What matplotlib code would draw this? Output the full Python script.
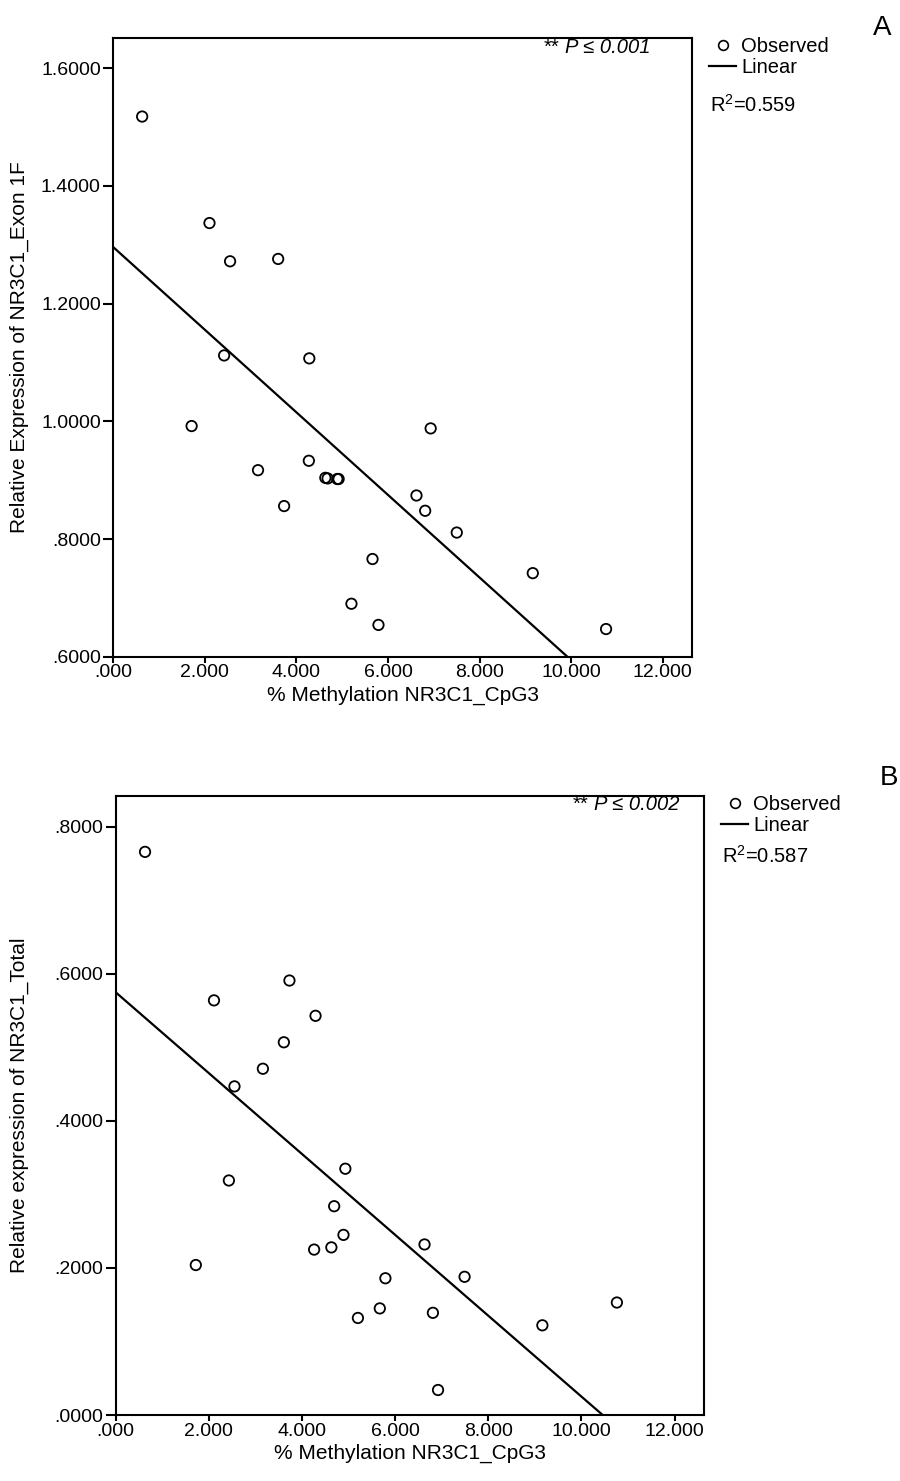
import matplotlib
matplotlib.use("Agg")
import matplotlib.pyplot as plt
import numpy as np
from matplotlib.ticker import FuncFormatter
from matplotlib.lines import Line2D

plt.rcParams['font.family'] = ['Liberation Sans', 'DejaVu Sans']
plt.rcParams['mathtext.fontset'] = 'custom'
plt.rcParams['mathtext.rm'] = 'Liberation Sans'

# panel A data: methylation vs exon 1F expression
meth_a = [0.63, 1.71, 2.10, 2.42, 2.55, 3.16, 3.60, 3.73, 4.27, 4.28, 4.63, 4.68,
          4.89, 4.92, 5.20, 5.66, 5.79, 6.62, 6.81, 6.93, 7.50, 9.16, 10.76]
expr_a = [1.518, 0.992, 1.337, 1.112, 1.272, 0.917, 1.276, 0.856, 0.933, 1.107, 0.904, 0.903,
          0.902, 0.902, 0.690, 0.766, 0.654, 0.874, 0.848, 0.988, 0.811, 0.742, 0.647]
fit_a = (1.296, -0.0702)  # intercept, slope
p_a = "P ≤ 0.001"
r2_a = "0.559"

# panel B data: methylation vs total expression
meth_b = [0.63, 1.72, 2.11, 2.43, 2.55, 3.16, 3.61, 3.73, 4.26, 4.29, 4.63, 4.69,
          4.89, 4.93, 5.20, 5.67, 5.79, 6.63, 6.81, 6.92, 7.49, 9.16, 10.76]
expr_b = [0.766, 0.204, 0.564, 0.319, 0.447, 0.471, 0.507, 0.591, 0.225, 0.543, 0.228, 0.284,
          0.245, 0.335, 0.132, 0.145, 0.186, 0.232, 0.139, 0.034, 0.188, 0.122, 0.153]
fit_b = (0.575, -0.055)
p_b = "P ≤ 0.002"
r2_b = "0.587"

xticks = [0, 2, 4, 6, 8, 10, 12]


def strip_zero(fmt):
    def f(v, pos):
        s = fmt.format(v)
        if s.startswith("0."):
            s = s[1:]
        return s
    return FuncFormatter(f)


fig = plt.figure(figsize=(9, 14.81), dpi=100)
W, H = 900.0, 1481.0


def panel(rect, x, y, fit, ylim, yticks, ylabel, ptxt, pxy, r2, leg_xy, r2_xy, letter, letter_xy):
    l, t, r, b = rect
    ax = fig.add_axes([l / W, 1 - b / H, (r - l) / W, (b - t) / H])
    ax.scatter(x, y, s=56, facecolors='none', edgecolors='black', linewidths=1.3, zorder=3)
    xend = -fit[0] / fit[1]
    xs = np.array([0, xend])
    ax.plot(xs, fit[0] + fit[1] * xs, color='black', lw=1.6)
    ax.set_xlim(0, 12.63)
    ax.set_ylim(*ylim)
    ax.set_xticks(xticks)
    ax.set_yticks(yticks)
    ax.xaxis.set_major_formatter(strip_zero("{:.3f}"))
    ax.yaxis.set_major_formatter(strip_zero("{:.4f}"))
    for s in ax.spines.values():
        s.set_linewidth(1.5)
    ax.tick_params(axis='y', direction='out', length=7, width=1.5, labelsize=14, pad=2)
    ax.tick_params(axis='x', direction='out', length=4.5, width=1.5, labelsize=14, pad=1)
    ax.set_xlabel("% Methylation NR3C1_CpG3", fontsize=15, labelpad=3)
    ax.set_ylabel(ylabel, fontsize=15)
    ax.yaxis.set_label_coords((29 - l) / (r - l), 0.5)

    t1 = ax.text(pxy[0], pxy[1], ptxt, transform=ax.transAxes, ha='right', va='center',
                 fontsize=14.5, style='italic')
    ax.annotate("**", xy=(0, 0.5), xycoords=t1, xytext=(-4, 0), textcoords='offset points',
                ha='right', va='center', fontsize=14.5)

    handles = [Line2D([], [], ls='none', marker='o', mfc='none', mec='black', ms=7, mew=1.2),
               Line2D([], [], color='black', lw=1.6)]
    ax.legend(handles, ["Observed", "Linear"], loc='upper left',
              bbox_to_anchor=(leg_xy[0] / W, 1 - leg_xy[1] / H), bbox_transform=fig.transFigure,
              frameon=False, fontsize=14.5, borderpad=0, borderaxespad=0, labelspacing=0.1,
              handlelength=1.35, handletextpad=0.25)
    fig.text(r2_xy[0] / W, 1 - r2_xy[1] / H, "R$^{2}$=" + r2, fontsize=14.5, ha='left', va='center')
    fig.text(letter_xy[0] / W, 1 - letter_xy[1] / H, letter, fontsize=20, ha='left', va='center')
    return ax


panel((113.3, 37.7, 691.7, 656.7), meth_a, expr_a, fit_a, (0.6, 1.652),
      [0.6, 0.8, 1.0, 1.2, 1.4, 1.6], "Relative Expression of NR3C1_Exon 1F",
      p_a, (0.928, 0.984), r2_a, (709, 37), (710, 105), "A", (873, 28))

panel((115.7, 796, 704, 1415), meth_b, expr_b, fit_b, (0, 0.842),
      [0, 0.2, 0.4, 0.6, 0.8], "Relative expression of NR3C1_Total",
      p_b, (0.959, 0.987), r2_b, (721, 795), (722, 856), "B", (880, 778))

fig.savefig("out.png", dpi=100)
